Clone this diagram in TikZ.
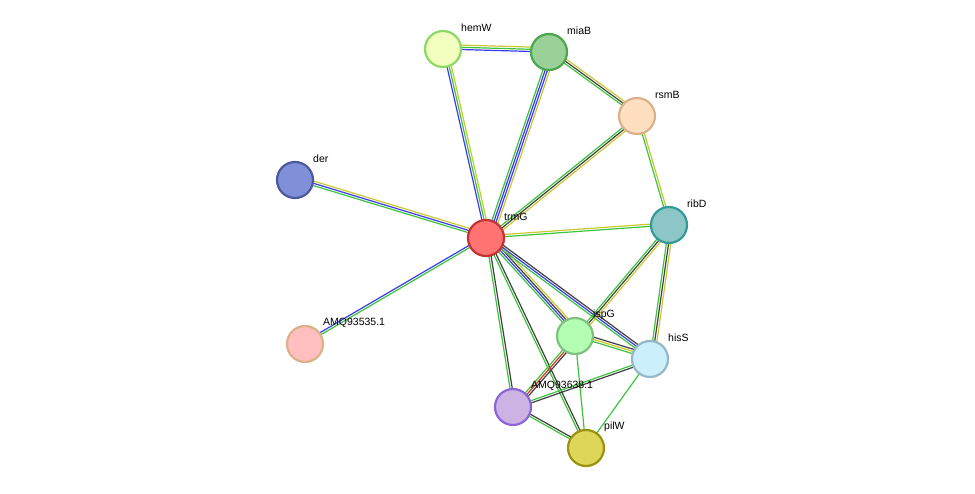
\documentclass[tikz,border=0pt]{standalone}
\usepackage{fontspec}
\setmainfont{Liberation Sans}
\usetikzlibrary{calc}
\usetikzlibrary{backgrounds}
\definecolor{evgreen}{HTML}{3CC43C}
\definecolor{evblue}{HTML}{3A3AF0}
\definecolor{evyellow}{HTML}{C8C832}
\definecolor{evblack}{HTML}{404040}
\definecolor{evred}{HTML}{E03030}
\definecolor{derfill}{HTML}{8090D8}
\definecolor{derline}{HTML}{4B5A9E}
\tikzset{
  protein/.style 2 args= {
    circle,
    draw = #2,
    fill = #1,
    line width = 2.2pt,
    minimum size = 36pt,
    inner sep = 0pt
  },
  lbl/.style= {
    anchor = west,
    inner sep = 0pt,
    font = \fontsize{10.5}{12}\selectfont
  }
}
% one edge = several parallel lines, one per colour
\newcommand{\linkp}[3]{%
  \foreach \c [count=\i] in {#3} {
    \pgfmathsetmacro{\off}{(\i-1)*2.2}
    \draw[\c, line width=1.2pt]
      ($(#1)!\off pt!90:(#2)$) -- ($(#2)!\off pt!-90:(#1)$);
  }
}
\begin{document}
\begin{tikzpicture}[x=1pt,y=-1pt]
  \useasboundingbox (0,0) rectangle (975,494);

  \node[protein={green!20!yellow!25}{green!50!olive!60}] (hemW) at (443,49) {};
  \node[protein={green!55!black!40!white}{green!50!black!70}] (miaB) at (549,52) {};
  \node[protein={orange!25}{brown!60}] (rsmB) at (637,116) {};
  \node[protein={derfill}{derline}] (der) at (295,180) {};
  \node[protein={red!55}{red!70!black!80}] (trmG) at (486,238) {};
  \node[protein={teal!45}{teal!80}] (ribD) at (669,225) {};
  \node[protein={red!25}{brown!60}] (amq535) at (305,344) {};
  \node[protein={green!30}{green!50!black!50}] (ispG) at (575,336) {};
  \node[protein={cyan!20}{cyan!50!black!50}] (hisS) at (650,359) {};
  \node[protein={blue!30!violet!30}{blue!50!violet!60}] (amq638) at (513,407) {};
  \node[protein={yellow!50!olive!60}{olive!90}] (pilW) at (586,448) {};

  \foreach \n/\t in {hemW/hemW, miaB/miaB, rsmB/rsmB, der/der, trmG/trmG,
      ribD/ribD, amq535/AMQ93535.1, ispG/ispG, hisS/hisS, amq638/AMQ93638.1,
      pilW/pilW}
    \node[lbl] (\n-l) at ($(\n)+(18,-21)$) {\t};

  \begin{scope}[on background layer]
    \linkp{hemW}{miaB}{evblue,evgreen,evyellow}
    \linkp{hemW}{trmG}{evblue,evgreen,evyellow}
    \linkp{miaB}{trmG}{evgreen,evblue,evblue,evyellow}
    \linkp{miaB}{rsmB}{evgreen,evblack,evyellow}
    \linkp{rsmB}{trmG}{evgreen,evblack,evyellow}
    \linkp{rsmB}{ribD}{evgreen,evyellow}
    \linkp{der}{trmG}{evgreen,evblue,evyellow}
    \linkp{trmG}{ribD}{evgreen,evyellow}
    \linkp{amq535}{trmG}{evgreen,evblue}
    \linkp{trmG}{ispG}{evgreen,evblue,evblack,evyellow}
    \linkp{trmG}{hisS}{evgreen,evblue,evblack}
    \linkp{trmG}{amq638}{evgreen,evblack}
    \linkp{trmG}{pilW}{evgreen,evblack}
    \linkp{ribD}{ispG}{evgreen,evblack,evyellow}
    \linkp{ribD}{hisS}{evgreen,evblack,evyellow}
    \linkp{ispG}{hisS}{evgreen,evyellow,evblack}
    \linkp{ispG}{amq638}{evgreen,evred,evblack}
    \linkp{ispG}{pilW}{evgreen}
    \linkp{hisS}{amq638}{evgreen,evblack}
    \linkp{hisS}{pilW}{evgreen}
    \linkp{amq638}{pilW}{evgreen,evblack}
  \end{scope}
\end{tikzpicture}
\end{document}
